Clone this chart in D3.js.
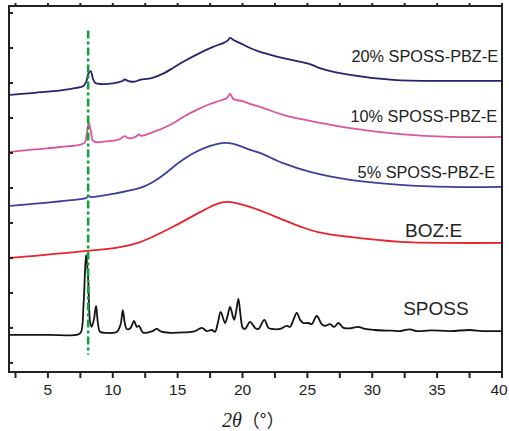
<!DOCTYPE html>
<html>
<head>
<meta charset="utf-8">
<script src="https://cdn.jsdelivr.net/npm/d3@7"></script>
<style>
  body { margin: 0; background: #fff; }
  svg { display: block; }
</style>
</head>
<body>
<div id="chart"></div>
<script>
// XRD patterns, 2theta (deg) vs intensity (a.u., curves stacked)
var sposs = [
  [2.08, 8], [5, 8], [7.3, 8.1], [7.55, 8.8], [7.75, 17], [7.94, 30.9], [8.1, 24], [8.25, 11.7],
  [8.37, 10.3], [8.55, 12.5], [8.71, 16.3], [8.85, 11.5], [9.02, 8.9], [9.5, 8.6], [10.3, 8.8],
  [10.6, 11], [10.77, 15.1], [10.92, 11.5], [11.07, 9.7], [11.35, 9.9], [11.64, 12], [11.85, 10.3],
  [12.02, 10.6], [12.2, 9.3], [12.35, 8.6], [13.0, 9.0], [13.39, 9.7], [13.7, 9.0], [14.41, 8.6],
  [15.5, 8.7], [16.3, 9.0], [16.86, 10], [17.24, 9.1], [17.63, 9.4], [17.88, 8.9], [18.1, 11.5],
  [18.32, 14.6], [18.65, 11.4], [18.85, 13.5], [19.04, 16], [19.35, 12.3], [19.5, 14.5], [19.68, 18.3],
  [19.85, 13.5], [20.02, 10], [20.2, 9.7], [20.58, 11.7], [20.97, 10], [21.22, 9.7], [21.68, 12.3],
  [22.0, 10], [22.25, 9.7], [22.9, 9.7], [23.41, 10.6], [23.67, 10.3], [23.92, 12.3], [24.18, 14.3],
  [24.44, 12.3], [24.69, 11.4], [25.08, 11.4], [25.34, 11.1], [25.72, 13.4], [26.1, 11.1], [26.36, 10.6],
  [26.75, 11.1], [27.06, 10.3], [27.39, 11.4], [27.78, 10], [28.3, 9.9], [28.91, 10.3], [29.45, 9.7],
  [30.22, 9.4], [31.5, 9.2], [32.15, 9.1], [32.9, 9.6], [33.4, 9.1], [34.5, 9.3], [36, 9.1],
  [37.5, 9.4], [38.5, 9.1], [40, 9.1]
]
var bozE = [
  [2.08, 30], [4, 30.6], [6, 31.3], [8, 32], [10.56, 33.1], [12, 34.4], [12.87, 35.7], [14.64, 38.9],
  [16.73, 43.1], [18.0, 45.4], [18.8, 46], [19.6, 45.6], [20.58, 44.6], [21.6, 43.2], [23.13, 40.9],
  [24.5, 38.9], [25.82, 37.4], [28.29, 36], [32.15, 34.6], [36, 34.3], [40, 34.3]
]
var pbz5 = [
  [2.08, 44.9], [4, 45.5], [6, 46.2], [7.5, 46.8], [8.0, 47.2], [8.1, 47.7], [8.3, 47.4], [10, 48.3],
  [12.1, 50], [13.0, 51.5], [14.0, 54], [15.0, 57], [16.0, 59.5], [17.0, 61.3], [18.0, 62.5],
  [18.7, 62.9], [19.3, 62.6], [20.58, 60.9], [21.35, 60], [23.13, 57.1], [25.21, 54.6], [28.29, 52.3],
  [32.15, 50.9], [36, 50.3], [40, 50.3]
]
var pbz10 = [
  [2.08, 60.3], [4, 61.0], [6, 61.7], [7.5, 62.4], [7.85, 63.0], [8.0, 65.5], [8.15, 68.6], [8.3, 66.5],
  [8.45, 63.6], [8.7, 63.1], [9.5, 63.3], [10.5, 63.9], [10.9, 64.8], [11.2, 64.2], [11.8, 64.7],
  [12.0, 65.3], [12.2, 64.9], [13, 65.8], [14.4, 68], [15.5, 70.4], [16.5, 72.4], [17.5, 74.0],
  [18.3, 75.0], [18.8, 75.7], [19.04, 76.9], [19.3, 75.4], [20, 74.8], [20.58, 74.0], [21.35, 73.2],
  [23.13, 70.9], [25.98, 68.6], [28.29, 67.1], [32.15, 65.4], [36, 64.6], [40, 64.6]
]
var pbz20 = [
  [2.08, 76.6], [4, 77.2], [6, 77.9], [7.2, 78.6], [7.7, 79.1], [7.95, 80.3], [8.1, 82.5], [8.3, 83.4],
  [8.45, 81.5], [8.65, 80.0], [9.2, 79.7], [10, 79.9], [10.7, 80.5], [10.95, 81.0], [11.2, 80.5],
  [11.7, 80.4], [12.1, 80.9], [13, 81.4], [14, 82.9], [14.64, 84.3], [15.5, 86.2], [16.73, 88.6],
  [17.73, 90.3], [18.5, 91.4], [18.85, 92.1], [19.04, 92.9], [19.3, 92.3], [19.81, 91.4], [20.58, 90.0],
  [21.35, 88.9], [23.13, 87.1], [24.5, 86.0], [25.2, 85.4], [26, 84.2], [28.29, 82.3], [31.61, 80.9],
  [36, 80.6], [40, 80.6]
]

var seriesNames = ['SPOSS', 'BOZ:E', '5% SPOSS-PBZ-E', '10% SPOSS-PBZ-E', '20% SPOSS-PBZ-E']
var seriesData = [sposs, bozE, pbz5, pbz10, pbz20]
var seriesColors = ['#141414', '#e8232b', '#3c409c', '#de549d', '#26246f']

var xTicks = [5, 10, 15, 20, 25, 30, 35, 40]
var xMinorTicks = [2.5, 7.5, 12.5, 17.5, 22.5, 27.5, 32.5, 37.5]
var yTicks = [0, 10, 20, 30, 40, 50, 60, 70, 80, 90, 100]

// green guide line at the SPOSS main reflection
var guideTheta = 8.1
var guideSpan = [2.3, 95]

var width = 509
var height = 431
var margin = { top: 6, left: 9, bottom: 59, right: 7 }

var x = d3.scaleLinear().domain([2, 40]).range([margin.left, width - margin.right])
var y = d3.scaleLinear().domain([-2.6, 102]).range([height - margin.bottom, margin.top])

var svg = d3.select('#chart').append('svg')
  .attr('width', width)
  .attr('height', height)
  .style('font-family', '"Liberation Sans", Arial, sans-serif')

var line = d3.line()
  .x(function (d) { return x(d[0]) })
  .y(function (d) { return y(d[1]) })
  .curve(d3.curveCatmullRom.alpha(0.5))

for (var i = 0; i < seriesData.length; i++) {
  svg.append('path')
    .datum(seriesData[i])
    .attr('d', line)
    .attr('fill', 'none')
    .attr('stroke', seriesColors[i])
    .attr('stroke-width', 1.8)
    .attr('stroke-linejoin', 'round')
}

svg.append('line')
  .attr('x1', x(guideTheta))
  .attr('x2', x(guideTheta))
  .attr('y1', y(guideSpan[1]))
  .attr('y2', y(guideSpan[0]))
  .attr('stroke', '#15a040')
  .attr('stroke-width', 2.6)
  .attr('stroke-dasharray', '8,3,3,3')

// label anchors: [theta, intensity, anchor, font size]
var labelPos = [
  [32.38, 13.7, 'start', 19],
  [32.53, 36, 'start', 19],
  [39.47, 52.9, 'end', 16.3],
  [39.62, 68.9, 'end', 16.3],
  [39.7, 86, 'end', 16.3]
]
for (var j = 0; j < seriesNames.length; j++) {
  svg.append('text')
    .attr('x', x(labelPos[j][0]))
    .attr('y', y(labelPos[j][1]))
    .attr('text-anchor', labelPos[j][2])
    .attr('font-size', labelPos[j][3])
    .attr('fill', '#222')
    .text(seriesNames[j])
}

// frame
var x0 = x.range()[0]
var x1 = x.range()[1]
var yb = y.range()[0]
var yt = y.range()[1]
svg.append('rect')
  .attr('x', x0)
  .attr('y', yt)
  .attr('width', x1 - x0)
  .attr('height', yb - yt)
  .attr('fill', 'none')
  .attr('stroke', '#222')
  .attr('stroke-width', 2)

var allX = xTicks.concat(xMinorTicks)
for (var k = 0; k < allX.length; k++) {
  svg.append('line')
    .attr('x1', x(allX[k])).attr('x2', x(allX[k]))
    .attr('y1', yb).attr('y2', yb + 6)
    .attr('stroke', '#222').attr('stroke-width', 2)
  svg.append('line')
    .attr('x1', x(allX[k])).attr('x2', x(allX[k]))
    .attr('y1', yt).attr('y2', yt - 3)
    .attr('stroke', '#222').attr('stroke-width', 2)
}
for (var m = 0; m < yTicks.length; m++) {
  svg.append('line')
    .attr('x1', x0).attr('x2', x0 + 4)
    .attr('y1', y(yTicks[m])).attr('y2', y(yTicks[m]))
    .attr('stroke', '#222').attr('stroke-width', 2)
}

svg.selectAll('.xlabel')
  .data(xTicks)
  .enter().append('text')
  .attr('class', 'xlabel')
  .attr('x', function (d) { return d === 40 ? x(d) - 3 : x(d) })
  .attr('y', yb + 23)
  .attr('text-anchor', 'middle')
  .attr('font-size', 15.5)
  .attr('fill', '#222')
  .text(function (d) { return d })

var title = svg.append('text')
  .attr('x', 222)
  .attr('y', 427)
  .attr('fill', '#222')
title.append('tspan')
  .attr('font-family', '"Liberation Serif", "Times New Roman", serif')
  .attr('font-style', 'italic')
  .attr('font-size', 20)
  .text('2θ')
title.append('tspan')
  .attr('font-family', '"Noto Sans CJK SC", sans-serif')
  .attr('font-size', 18)
  .text('（°）')
</script>
</body>
</html>
